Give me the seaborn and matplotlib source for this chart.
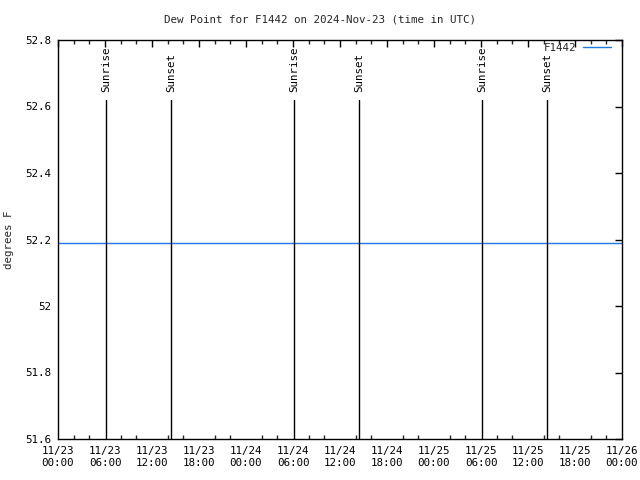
import matplotlib
matplotlib.use("Agg")
import matplotlib.pyplot as plt
import matplotlib.dates as mdates
from matplotlib.ticker import FuncFormatter, MultipleLocator
import seaborn as sns
import pandas as pd

# ---- data ----
times = ["2024-11-23 00:00", "2024-11-24 00:00", "2024-11-25 00:00", "2024-11-26 00:00"]
dew_point = [52.19, 52.19, 52.19, 52.19]
series_name = "F1442"
sun_events = ["2024-11-23 06:09", "2024-11-23 14:26",
              "2024-11-24 06:09", "2024-11-24 14:27",
              "2024-11-25 06:10", "2024-11-25 14:25"]
sun_labels = ["Sunrise", "Sunset", "Sunrise", "Sunset", "Sunrise", "Sunset"]
title = "Dew Point for F1442 on 2024-Nov-23 (time in UTC)"
ylabel = "degrees F"

FS = 7.8
sns.set_style("white")
plt.rcParams['font.family'] = ['DejaVu Sans Mono', 'DejaVu Sans']
plt.rcParams['font.size'] = FS

df = pd.DataFrame({"time": pd.to_datetime(times), "value": dew_point, "series": series_name})

fig = plt.figure(figsize=(6.4, 4.8), dpi=100)
ax = fig.add_axes([58/640, 1-439/480, 564/640, 399/480])

sns.lineplot(data=df, x="time", y="value", hue="series", palette=["#1e78e6"],
             linewidth=1, ax=ax)

for t, lab in zip(pd.to_datetime(sun_events), sun_labels):
    ax.axvline(t, ymin=0, ymax=0.85, color="black", linewidth=1)
    ax.text(t, 0.8697, lab, transform=ax.get_xaxis_transform(), rotation=90,
            rotation_mode="anchor", ha="left", va="center", fontsize=FS,
            color="black")

ax.set_xlim(pd.Timestamp("2024-11-23 00:00"), pd.Timestamp("2024-11-26 00:00"))
ax.set_ylim(51.6, 52.8)
ax.yaxis.set_major_locator(MultipleLocator(0.2))
ax.yaxis.set_major_formatter(FuncFormatter(lambda v, p: f"{v:g}"))
ax.xaxis.set_major_locator(mdates.HourLocator(byhour=[0, 6, 12, 18]))
ax.xaxis.set_minor_locator(mdates.HourLocator(byhour=range(0, 24, 2)))
ax.xaxis.set_major_formatter(mdates.DateFormatter("%m/%d\n%H:%M"))

ax.tick_params(axis="both", which="major", direction="in", length=5, width=1,
               top=True, right=True, labelsize=FS, colors="black", pad=5)
ax.tick_params(axis="x", which="minor", direction="in", length=3, width=1,
               top=True, bottom=True)
for s in ax.spines.values():
    s.set_color("black")
    s.set_linewidth(1)

ax.set_xlabel("")
ax.set_ylabel(ylabel, fontsize=FS)
ax.yaxis.set_label_coords(-0.078, 0.5)
fig.text(0.5, 1-20/480, title, ha="center", va="center", fontsize=FS)

leg = ax.legend(loc="upper right", frameon=False, fontsize=FS,
                handlelength=2.6, markerfirst=False, borderaxespad=0.6,
                handletextpad=0.6, bbox_to_anchor=(1.0, 1.02))

fig.savefig("out.png", dpi=100)
